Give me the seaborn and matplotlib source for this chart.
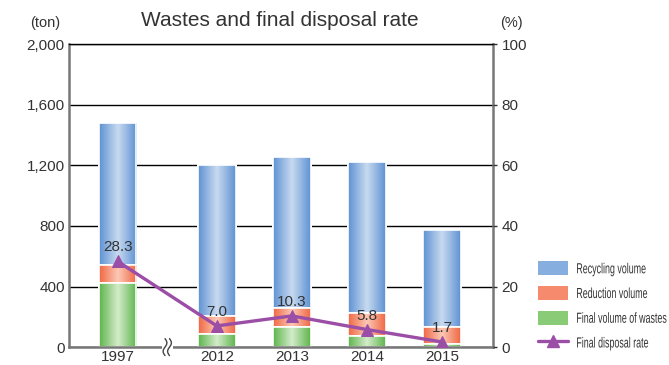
import numpy as np
import pandas as pd
import matplotlib
matplotlib.use("Agg")
import matplotlib.pyplot as plt
from matplotlib.colors import LinearSegmentedColormap
from matplotlib.patches import Patch, Rectangle
from matplotlib.lines import Line2D
from matplotlib.transforms import Affine2D
from matplotlib import patheffects
import seaborn as sns

# data
years = ["1997", "2012", "2013", "2014", "2015"]
final_volume = [420, 85, 130, 72, 20]
reduction = [120, 120, 125, 150, 115]
recycling = [940, 995, 1000, 1000, 640]
disposal_rate = [28.3, 7.0, 10.3, 5.8, 1.7]

# layout: 1997 is separated by an axis break
xpos = [0, 1.32, 2.32, 3.32, 4.32]

SQUEEZE = 0.61


class Condense(patheffects.AbstractPathEffect):
    # squeeze glyphs horizontally (the legend uses a narrow font)
    def __init__(self, sx):
        super().__init__()
        self.sx = sx

    def draw_path(self, renderer, gc, tpath, affine, rgbFace=None):
        renderer.draw_path(gc, tpath, Affine2D().scale(self.sx, 1) + affine, rgbFace)


sns.set_style("white")
plt.rcParams["font.family"] = ["Liberation Sans", "DejaVu Sans"]

df = pd.DataFrame({"year": years, "x": xpos, "final": final_volume,
                   "reduction": reduction, "recycling": recycling,
                   "rate": disposal_rate})
df["top_red"] = df["final"] + df["reduction"]
df["top_blue"] = df["top_red"] + df["recycling"]

fig = plt.figure(figsize=(6.69, 3.65), dpi=100)
ax = fig.add_axes([0.103, 0.049, 0.634, 0.830])

layers = [
    ("top_blue", "#7aa6da", ["#5f93d3", "#c8daf0", "#5f93d3"]),
    ("top_red", "#f58a6c", ["#f06844", "#fcc9b6", "#f06844"]),
    ("final", "#7cc46a", ["#5fb54d", "#d4ecca", "#5fb54d"]),
]

grad = np.linspace(0, 1, 64).reshape(1, -1)
z = 2
for col, solid, cols in layers:
    n_before = len(ax.patches)
    sns.barplot(data=df, x="x", y=col, native_scale=True, width=0.5,
                color=solid, errorbar=None, ax=ax, zorder=z,
                edgecolor="white", linewidth=1.2, saturation=1)
    cmap = LinearSegmentedColormap.from_list(col, cols)
    for p in ax.patches[n_before:]:
        p.set_zorder(z)
        x0, y0 = p.get_x(), p.get_y()
        w, h = p.get_width(), p.get_height()
        im = ax.imshow(grad, cmap=cmap, aspect="auto",
                       extent=(x0, x0 + w, y0, y0 + h), zorder=z + 0.05,
                       interpolation="bilinear")
        im.set_clip_path(p)
        edge = Rectangle((x0, y0), w, h, fill=False, edgecolor="white",
                         linewidth=1.2, zorder=z + 0.08)
        ax.add_patch(edge)
    z += 0.2

ax.set_xlim(-0.65, 5.0)
ax.set_ylim(0, 2000)
ax.set_yticks(range(0, 2001, 400))
ax.set_yticklabels([f"{v:,}" for v in range(0, 2001, 400)])
ax.set_xticks(xpos)
ax.set_xticklabels(years)
ax.set_xlabel("")
ax.set_ylabel("")
ax.grid(axis="y", color="black", linewidth=1.0, zorder=1)
ax.set_axisbelow(True)
ax.tick_params(axis="y", labelsize=11, colors="#333333", length=0, pad=3)
ax.tick_params(axis="x", labelsize=11, colors="#333333", length=0, pad=2)
for s in ["left", "right", "bottom"]:
    ax.spines[s].set_color("#777777")
    ax.spines[s].set_linewidth(1.8)
ax.spines["top"].set_color("black")
ax.spines["top"].set_linewidth(1.0)

ax2 = ax.twinx()
ax2.set_ylim(0, 100)
ax2.set_yticks(range(0, 101, 20))
sns.lineplot(x=df["x"], y=df["rate"], ax=ax2, color="#9b4ea6", linewidth=2.4,
             marker="^", markersize=9, markeredgecolor="#9b4ea6", zorder=5)
ax2.set_ylabel("")
ax2.set_xlabel("")
ax2.tick_params(axis="y", labelsize=11, colors="#333333", length=3,
                width=1, pad=3)
for s in ["left", "right", "bottom", "top"]:
    ax2.spines[s].set_visible(False)
ax2.grid(False)

for xv, rv in zip(df["x"], df["rate"]):
    ax2.annotate(f"{rv:.1f}", (xv, rv), xytext=(0, 5), textcoords="offset points",
                 ha="center", va="bottom", fontsize=11, color="#333333",
                 zorder=6)

# axis break mark between 1997 and 2012
bx = 0.66
ax.add_patch(Rectangle((bx - 0.07, -0.03), 0.14, 0.06, transform=ax.get_xaxis_transform(),
                       facecolor="white", edgecolor="none", clip_on=False, zorder=8))
tt = np.linspace(-1, 1, 40)
for dx in (-0.03, 0.03):
    ax.plot(bx + dx + 0.025 * np.sin(tt * np.pi), 0.028 * tt,
            transform=ax.get_xaxis_transform(), color="#444444", linewidth=1.0,
            clip_on=False, zorder=9)

fig.text(0.418, 0.943, "Wastes and final disposal rate", ha="center",
         va="center", fontsize=15, color="#333333")
fig.text(0.068, 0.937, "(ton)", ha="center", va="center", fontsize=10.5,
         color="#333333")
fig.text(0.764, 0.937, "(%)", ha="center", va="center", fontsize=10.5,
         color="#333333")

handles = [
    Patch(facecolor="#86afdf", edgecolor="none", label="Recycling volume"),
    Patch(facecolor="#f58a6c", edgecolor="none", label="Reduction volume"),
    Patch(facecolor="#8acb78", edgecolor="none", label="Final volume of wastes"),
    Line2D([0], [0], color="#9b4ea6", linewidth=2.4, marker="^", markersize=8,
           label="Final disposal rate"),
]
leg = fig.legend(handles=handles, loc="upper left", bbox_to_anchor=(0.795, 0.30),
                 frameon=False, fontsize=10.5, handlelength=2.1, handleheight=1.1,
                 handletextpad=0.55, labelspacing=0.67, borderaxespad=0)
for t in leg.get_texts():
    t.set_color("#333333")
    t.set_path_effects([Condense(SQUEEZE)])

fig.savefig("out.png", dpi=100)
